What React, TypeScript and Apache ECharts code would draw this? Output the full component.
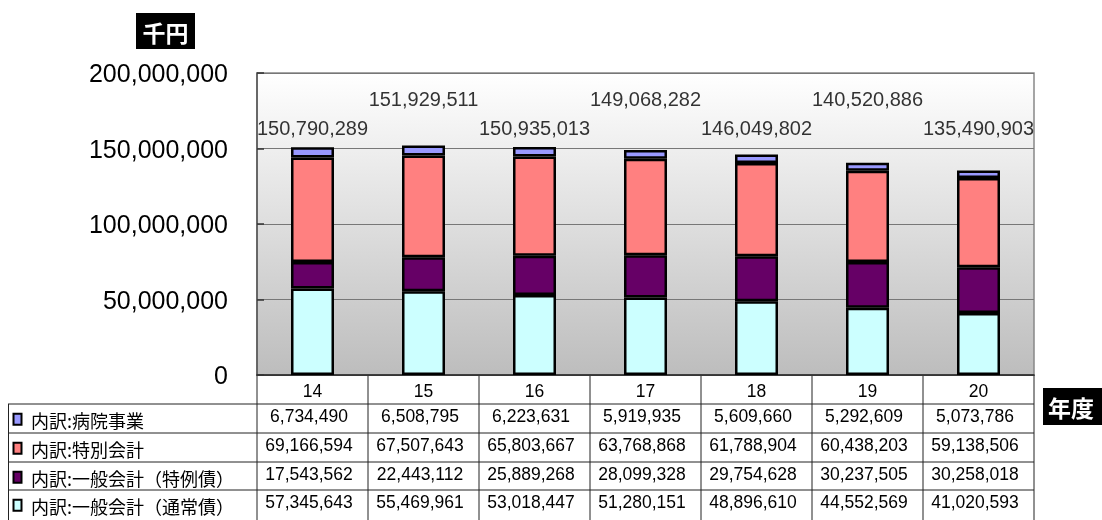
import React, { useEffect, useRef } from "react";
import * as echarts from "echarts";

const years = ["14", "15", "16", "17", "18", "19", "20"];
const hospital = [6734490, 6508795, 6223631, 5919935, 5609660, 5292609, 5073786];
const special = [69166594, 67507643, 65803667, 63768868, 61788904, 60438203, 59138506];
const generalSpecial = [17543562, 22443112, 25889268, 28099328, 29754628, 30237505, 30258018];
const generalNormal = [57345643, 55469961, 53018447, 51280151, 48896610, 44552569, 41020593];
const totals = [150790289, 151929511, 150935013, 149068282, 146049802, 140520886, 135490903];
const rowNames = ["内訳:病院事業", "内訳:特別会計", "内訳:一般会計（特例債）", "内訳:一般会計（通常債）"];
const unitLabel = "千円";
const axisLabel = "年度";

const W = 1102;
const H = 520;
const GL = 257;
const GR = 1034;
const GT = 73;
const GB = 375;
const COLORS = ["#9999ff", "#ff8080", "#660066", "#ccffff"];
const NUM_FONT = "'Liberation Sans', Arial, 'Noto Sans CJK JP', sans-serif";
const CJK_FONT = "'Noto Sans CJK JP', sans-serif";
const LABEL_LOW = 163.5e6;
const LABEL_HIGH = 182.5e6;

const fmt = (n: number) => n.toLocaleString("en-US");

export default function App() {
  const ref = useRef<HTMLDivElement>(null);
  useEffect(() => {
    if (!ref.current) return;
    const chart = echarts.init(ref.current, undefined, { renderer: "svg" });
    const rows = [hospital, special, generalSpecial, generalNormal];
    const colW = (GR - GL) / years.length;
    const rowTops = [404, 433, 462, 490];
    const rowH = 28.7;
    const graphics: any[] = [];
    const lineStyle = { stroke: "#222", lineWidth: 1 };
    rowTops.forEach((t) => {
      graphics.push({ type: "line", shape: { x1: 8, y1: t, x2: GR, y2: t }, style: lineStyle });
    });
    for (let i = 0; i <= years.length; i++) {
      const x = GL + i * colW;
      graphics.push({ type: "line", shape: { x1: x, y1: GB, x2: x, y2: H }, style: lineStyle });
    }
    graphics.push({ type: "line", shape: { x1: 8.5, y1: 404, x2: 8.5, y2: H }, style: lineStyle });
    years.forEach((y, i) => {
      graphics.push({
        type: "text",
        style: { text: y, x: GL + colW * (i + 0.5), y: 391, align: "center", verticalAlign: "middle", fontSize: 17.5, fontFamily: NUM_FONT, fill: "#000" },
      });
    });
    rows.forEach((vals, r) => {
      const cy = rowTops[r] + rowH / 2;
      graphics.push({
        type: "rect",
        shape: { x: 13.5, y: cy - 4.5, width: 8, height: 11 },
        style: { fill: COLORS[r], stroke: "#000", lineWidth: 2 },
      });
      graphics.push({
        type: "text",
        style: { text: rowNames[r], x: 31, y: cy + 2, align: "left", verticalAlign: "middle", fontSize: 18, fontFamily: CJK_FONT, fill: "#000" },
      });
      vals.forEach((v, i) => {
        graphics.push({
          type: "text",
          style: { text: fmt(v), x: GL + colW * (i + 0.5) - 3.5, y: cy - 2, align: "center", verticalAlign: "middle", fontSize: 17.5, fontFamily: NUM_FONT, fill: "#000" },
        });
      });
    });
    graphics.push({ type: "rect", shape: { x: 136, y: 13, width: 59, height: 36 }, style: { fill: "#000" } });
    graphics.push({
      type: "text",
      style: { text: unitLabel, x: 165.5, y: 31.5, align: "center", verticalAlign: "middle", fontSize: 23, fontWeight: "bold", fontFamily: CJK_FONT, fill: "#fff" },
    });
    graphics.push({ type: "rect", shape: { x: 1043, y: 388, width: 59, height: 37 }, style: { fill: "#000" } });
    graphics.push({
      type: "text",
      style: { text: axisLabel, x: 1071, y: 407, align: "center", verticalAlign: "middle", fontSize: 23, fontWeight: "bold", fontFamily: CJK_FONT, fill: "#fff" },
    });

    const barBase = { type: "bar", stack: "total", barWidth: 43, itemStyle: { borderColor: "#000", borderWidth: 2.5 } };

    chart.setOption({
      animation: false,
      grid: {
        left: GL,
        right: W - GR,
        top: GT,
        bottom: H - GB,
        show: true,
        borderColor: "#888",
        borderWidth: 1.5,
        backgroundColor: new echarts.graphic.LinearGradient(0, 0, 0, 1, [
          { offset: 0, color: "#ffffff" },
          { offset: 1, color: "#bdbdbd" },
        ]),
      },
      xAxis: {
        type: "category",
        data: years,
        axisLine: { show: true, lineStyle: { color: "#222", width: 1.5 } },
        axisTick: { show: false },
        axisLabel: { show: false },
      },
      yAxis: {
        type: "value",
        min: 0,
        max: 200000000,
        interval: 50000000,
        axisLine: { show: true, lineStyle: { color: "#555", width: 1.5 } },
        axisTick: { show: true, inside: true, length: 7, lineStyle: { color: "#333", width: 1.5 } },
        splitLine: { show: true, lineStyle: { color: "#777", width: 1 } },
        axisLabel: {
          margin: 29,
          fontSize: 25,
          fontFamily: NUM_FONT,
          color: "#000",
          formatter: (v: number) => fmt(v),
        },
      },
      series: [
        { ...barBase, name: rowNames[3], data: generalNormal, itemStyle: { ...barBase.itemStyle, color: COLORS[3] } },
        { ...barBase, name: rowNames[2], data: generalSpecial, itemStyle: { ...barBase.itemStyle, color: COLORS[2] } },
        { ...barBase, name: rowNames[1], data: special, itemStyle: { ...barBase.itemStyle, color: COLORS[1] } },
        { ...barBase, name: rowNames[0], data: hospital, itemStyle: { ...barBase.itemStyle, color: COLORS[0] } },
        {
          type: "scatter",
          symbolSize: 0,
          silent: true,
          data: years.map((_, i) => [i, i % 2 === 0 ? LABEL_LOW : LABEL_HIGH]),
          label: {
            show: true,
            position: "inside",
            fontSize: 20,
            fontFamily: NUM_FONT,
            color: "#000",
            formatter: (p: any) => fmt(totals[p.dataIndex]),
          },
        },
      ],
      graphic: graphics,
    });
    return () => chart.dispose();
  }, []);
  return <div ref={ref} style={{ position: "fixed", left: 0, top: 0, width: W, height: H }} />;
}
